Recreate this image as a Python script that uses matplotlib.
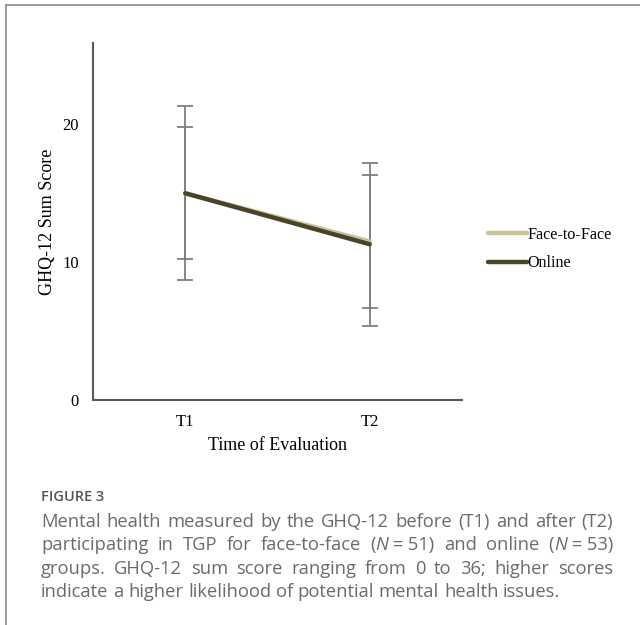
import matplotlib
matplotlib.use("Agg")
import matplotlib.pyplot as plt
from matplotlib.lines import Line2D

# data
times = ["T1", "T2"]
f2f_mean = [15.0, 11.5]
f2f_sd = [4.8, 4.8]
online_mean = [15.0, 11.3]
online_sd = [6.3, 5.9]

caption_head = "FIGURE 3"
caption_lines = [
    [[("Mental", 0)], [("health", 0)], [("measured", 0)], [("by", 0)], [("the", 0)], [("GHQ-12", 0)],
     [("before", 0)], [("(T1)", 0)], [("and", 0)], [("after", 0)], [("(T2)", 0)]],
    [[("participating", 0)], [("in", 0)], [("TGP", 0)], [("for", 0)], [("face-to-face", 0)],
     [("(", 0), ("N", 1), (" = 51)", 0)], [("and", 0)], [("online", 0)],
     [("(", 0), ("N", 1), (" = 53)", 0)]],
    [[("groups.", 0)], [("GHQ-12", 0)], [("sum", 0)], [("score", 0)], [("ranging", 0)], [("from", 0)],
     [("0", 0)], [("to", 0)], [("36;", 0)], [("higher", 0)], [("scores", 0)]],
    [[("indicate", 0)], [("a", 0)], [("higher", 0)], [("likelihood", 0)], [("of", 0)], [("potential", 0)],
     [("mental", 0)], [("health", 0)], [("issues.", 0)]],
]

W, H = 640, 625
fig = plt.figure(figsize=(W / 100, H / 100), dpi=100)
fig.patch.set_facecolor("white")

# page frame (top and left edges)
fig.add_artist(Line2D([6 / W, 1], [1 - 5 / H, 1 - 5 / H], color="#8a8a8a", lw=1.2))
fig.add_artist(Line2D([6 / W, 6 / W], [0, 1 - 5 / H], color="#8a8a8a", lw=1.2))

ax = fig.add_axes([93 / W, 1 - 400 / H, (462 - 93) / W, (400 - 43) / H])
x = [1, 2]
serif = "Liberation Serif"
err_col = "#7f7f7f"

ax.errorbar(x, f2f_mean, yerr=f2f_sd, fmt="none", ecolor=err_col, elinewidth=1.3,
            capsize=6, capthick=1.3, zorder=2)
ax.errorbar(x, online_mean, yerr=online_sd, fmt="none", ecolor=err_col, elinewidth=1.3,
            capsize=6, capthick=1.3, zorder=2)
ax.plot(x, f2f_mean, color="#c9c19a", lw=3.2, solid_capstyle="round", label="Face-to-Face", zorder=3)
ax.plot(x, online_mean, color="#4b4329", lw=3.2, solid_capstyle="round", label="Online", zorder=4)

ax.set_xlim(0.5, 2.5)
ax.set_ylim(0, 25.9)
ax.set_xticks(x)
ax.set_xticklabels(times, fontfamily=serif, fontsize=12)
ax.set_yticks([0, 10, 20])
ax.set_yticklabels(["0", "10", "20"], fontfamily=serif, fontsize=12)
ax.tick_params(length=0, pad=10)
for s in ["top", "right"]:
    ax.spines[s].set_visible(False)
for s in ["left", "bottom"]:
    ax.spines[s].set_color("#595959")
    ax.spines[s].set_linewidth(1.5)

ax.set_ylabel("GHQ-12 Sum Score", fontfamily=serif, fontsize=13, labelpad=5)
ax.set_xlabel("Time of Evaluation", fontfamily=serif, fontsize=13, labelpad=5)

leg = fig.legend(loc="center left", bbox_to_anchor=(488 / W, 1 - 249 / H), frameon=False,
                 prop={"family": serif, "size": 11.6}, handlelength=2.4, handletextpad=0.05,
                 labelspacing=0.8, borderpad=0, borderaxespad=0)

# caption
cap_col = "#6b6b6b"
sans = "Open Sans"
fig.text(41 / W, 1 - 497 / H, caption_head, fontfamily=sans, fontsize=10.5, color="#555555",
         fontweight="semibold", va="center")

fig.canvas.draw()
r = fig.canvas.get_renderer()
left, right = 41, 613
line_y = [522, 545, 569, 592]
fs = 13.2


def make_word(word, xpix, ypix, draw=True):
    xx = xpix
    arts = []
    for txt, it in word:
        t = fig.text(xx / W, 1 - ypix / H, txt, fontfamily=sans, fontsize=fs, color=cap_col,
                     style="italic" if it else "normal", va="center", ha="left")
        xx += t.get_window_extent(r).width
        arts.append(t)
    if not draw:
        for a in arts:
            a.remove()
    return xx - xpix


space = make_word([("a a", 0)], 0, 0, False) - make_word([("aa", 0)], 0, 0, False)
for i, words in enumerate(caption_lines):
    widths = [make_word(wd, 0, line_y[i], draw=False) for wd in words]
    if i < len(caption_lines) - 1:
        gap = (right - left - sum(widths)) / (len(words) - 1)
    else:
        gap = space
    xx = left
    for wd, w in zip(words, widths):
        make_word(wd, xx, line_y[i])
        xx += w + gap

fig.savefig("out.png", dpi=100, facecolor="white")
